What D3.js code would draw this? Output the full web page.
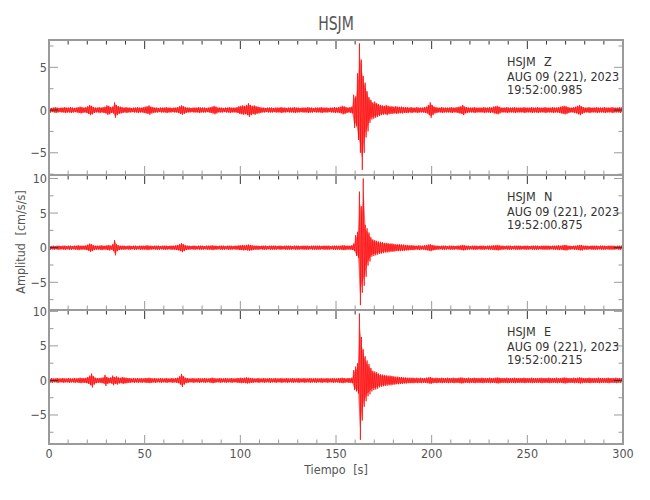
<!DOCTYPE html>
<html><head><meta charset="utf-8">
<script src="https://cdn.jsdelivr.net/npm/d3@7"></script>
<style>
body{margin:0;background:#fff;}
text{font-family:"Liberation Sans Narrow","DejaVu Sans Condensed",sans-serif;}
</style></head>
<body><svg id="c" width="650" height="500"></svg>
<script>
// ---- data ----
const title = "HSJM";
const station = "HSJM";
const dateLabel = "AUG 09 (221), 2023";
const channels = ["Z", "N", "E"];
const startTimes = ["19:52:00.985", "19:52:00.875", "19:52:00.215"];
const xTicksMajor = [0, 50, 100, 150, 200, 250, 300];
const xLabel = "Tiempo [s]";
const yLabel = "Amplitud [cm/s/s]";
const yDomains = [[-7.6, 8.2], [-9, 10.5], [-9.2, 10.2]];
const eventStart = 158;

// upper envelope per 1 s bin (cm/s/s)
const zUp = [
.3,.25,.3,.35,.3,.25,.3,.3,.35,.3,
.3,.35,.3,.25,.3,.35,.4,.35,.3,.35,
.45,.6,.5,.35,.3,.3,.35,.3,.35,.4,
.55,.5,.35,.4,.9,.6,.45,.4,.35,.3,
.35,.3,.3,.25,.3,.3,.35,.3,.3,.35,
.4,.45,.55,.4,.35,.3,.3,.25,.3,.3,
.3,.35,.3,.3,.25,.3,.3,.35,.45,.55,
.45,.35,.3,.3,.25,.3,.3,.3,.35,.3,
.3,.3,.25,.3,.35,.4,.5,.4,.3,.3,
.3,.25,.3,.3,.35,.3,.3,.3,.35,.45,
.5,.55,.5,.6,.8,.6,.5,.55,.45,.4,
.35,.3,.3,.25,.3,.3,.3,.25,.3,.3,
.3,.35,.3,.3,.25,.3,.3,.3,.35,.3,
.3,.25,.3,.3,.3,.35,.3,.3,.25,.3,
.3,.3,.35,.3,.3,.3,.25,.3,.3,.35,
.3,.35,.4,.5,.45,.35,.3,.35,.4,1.8,
1.6,4.3,7.8,5.9,4.0,3.2,2.2,1.5,1.2,.9,
1.0,.8,.7,.6,.55,.5,.6,.5,.45,.45,
.4,.45,.4,.38,.4,.35,.35,.35,.3,.35,
.3,.3,.35,.3,.3,.3,.35,.4,.6,.9,
.6,.4,.35,.3,.3,.35,.3,.3,.3,.3,
.35,.3,.3,.35,.4,.45,.6,.4,.35,.3,
.3,.3,.35,.3,.3,.3,.3,.35,.3,.3,
.35,.3,.4,.45,.5,.4,.3,.3,.3,.35,
.3,.3,.3,.35,.3,.3,.3,.3,.35,.3,
.3,.3,.35,.3,.3,.35,.3,.3,.3,.35,
.3,.3,.3,.35,.3,.3,.35,.4,.45,.5,
.45,.35,.3,.3,.35,.4,.5,.6,.45,.35,
.3,.3,.35,.3,.3,.3,.35,.3,.3,.3,
.35,.3,.3,.3,.35,.3,.3,.3,.35,.3];
// lower envelope around the event (from 158 s), elsewhere equal to upper
const zDnEvent = [.4,2.1,1.9,3.5,5.0,7.0,5.0,3.2,2.5,1.5,1.1,1.0,.9,.8,.7];

const nUp = [
.3,.25,.3,.25,.3,.3,.25,.3,.3,.25,
.3,.3,.25,.3,.3,.35,.3,.3,.3,.35,
.45,.6,.5,.35,.3,.3,.3,.35,.3,.3,
.35,.4,.3,.5,1.1,.5,.35,.3,.3,.3,
.25,.3,.3,.25,.3,.3,.25,.3,.3,.3,
.3,.35,.3,.3,.25,.3,.3,.3,.25,.3,
.3,.3,.25,.3,.3,.3,.35,.4,.5,.65,
.5,.35,.3,.3,.25,.3,.3,.25,.3,.3,
.3,.25,.3,.3,.3,.35,.3,.3,.25,.3,
.3,.3,.25,.3,.3,.3,.25,.3,.3,.35,
.35,.4,.35,.4,.45,.4,.35,.3,.3,.3,
.25,.3,.3,.3,.25,.3,.3,.3,.3,.25,
.3,.3,.25,.3,.3,.3,.3,.25,.3,.3,
.3,.25,.3,.3,.3,.3,.25,.3,.3,.3,
.3,.3,.25,.3,.3,.3,.3,.25,.3,.3,
.3,.3,.3,.35,.35,.3,.3,.3,.35,.6,
1.8,2.3,8.1,6.0,10.0,3.3,2.8,2.2,1.5,1.2,
1.1,1.0,.9,.85,.8,.7,.7,.65,.6,.6,
.55,.5,.5,.5,.45,.45,.4,.4,.35,.35,
.35,.3,.3,.35,.3,.3,.35,.4,.45,.5,
.4,.35,.3,.3,.25,.3,.3,.3,.25,.3,
.3,.3,.25,.3,.3,.35,.4,.35,.3,.3,
.25,.3,.3,.3,.25,.3,.3,.3,.25,.3,
.3,.3,.35,.35,.4,.35,.3,.3,.25,.3,
.3,.3,.25,.3,.3,.3,.3,.25,.3,.3,
.3,.25,.3,.3,.3,.3,.25,.3,.3,.3,
.3,.3,.25,.3,.3,.3,.35,.3,.35,.4,
.4,.3,.3,.25,.3,.3,.35,.4,.4,.3,
.3,.3,.25,.3,.3,.3,.3,.25,.3,.3,
.3,.25,.3,.3,.3,.3,.25,.3,.3,.3];
const nDnEvent = [.35,.5,1.2,1.5,8.3,6.5,5.5,4.2,2.6,2.0,1.3,1.2,1.1,1.0,.9];

const eUp = [
.3,.35,.3,.3,.35,.3,.3,.35,.3,.3,
.35,.3,.3,.35,.3,.35,.4,.35,.35,.4,
.5,.7,1.0,.6,.4,.35,.35,.4,.45,.8,
.5,.4,.45,.7,.5,.6,.45,.4,.5,.45,
.4,.35,.35,.3,.35,.3,.35,.3,.35,.3,
.35,.35,.4,.35,.3,.35,.3,.3,.35,.3,
.3,.35,.3,.3,.35,.3,.35,.4,.6,.95,
.6,.4,.35,.3,.3,.35,.3,.3,.35,.3,
.3,.35,.3,.3,.35,.4,.35,.3,.3,.35,
.3,.3,.35,.3,.3,.35,.3,.3,.35,.35,
.4,.35,.4,.45,.4,.35,.35,.3,.3,.35,
.3,.3,.35,.3,.3,.35,.3,.3,.35,.3,
.3,.35,.3,.3,.35,.3,.3,.35,.3,.3,
.35,.3,.3,.35,.3,.3,.35,.3,.3,.35,
.3,.3,.35,.3,.3,.35,.3,.3,.35,.3,
.3,.35,.35,.4,.35,.3,.35,.35,.4,1.5,
2.0,2.5,9.7,6.3,4.5,3.5,2.9,2.4,1.8,1.4,
1.3,1.2,1.0,.9,.85,.8,.75,.7,.7,.65,
.6,.55,.55,.5,.5,.45,.45,.4,.4,.4,
.4,.35,.4,.35,.4,.35,.35,.4,.45,.5,
.4,.35,.4,.35,.35,.4,.35,.35,.4,.35,
.35,.4,.35,.35,.4,.45,.4,.35,.35,.4,
.35,.35,.4,.35,.35,.35,.4,.35,.35,.35,
.4,.35,.35,.4,.45,.4,.35,.35,.35,.4,
.35,.35,.35,.4,.35,.35,.35,.35,.4,.35,
.35,.35,.4,.35,.35,.35,.35,.4,.35,.35,
.35,.4,.35,.35,.35,.4,.35,.35,.4,.45,
.4,.35,.35,.35,.4,.35,.4,.45,.4,.35,
.35,.35,.4,.35,.35,.35,.35,.4,.35,.35,
.35,.35,.4,.35,.35,.35,.4,.35,.35,.35];
const eDnEvent = [.4,1.4,1.6,1.9,8.6,5.8,3.8,3.0,2.3,2.0,1.6,1.4,1.3,1.2,1.0];

const ups = [zUp, nUp, eUp];
const dnEvents = [zDnEvent, nDnEvent, eDnEvent];

// ---- layout ----
const svg = d3.select("#c");
const L = 49, R = 623;
const panelTops = [40, 175, 310];
const panelBots = [175, 310, 444];
const frameCol = "#9a9a9a", darkTick = "#333", textCol = "#555";

const x = d3.scaleLinear().domain([0, 300]).range([L, R]);
const xMinor = d3.range(0, 301, 10);

svg.append("text").text(title)
  .attr("transform", `translate(${(L+R)/2},30) scale(0.78,1)`)
  .attr("text-anchor", "middle").attr("font-size", 20).attr("fill", textCol);

channels.forEach((ch, p) => {
  const top = panelTops[p], bot = panelBots[p];
  const y = d3.scaleLinear().domain(yDomains[p]).range([bot, top]);
  const g = svg.append("g");

  const cid = "clip" + p;
  svg.append("clipPath").attr("id", cid).append("rect")
    .attr("x", L).attr("y", top).attr("width", R - L).attr("height", bot - top);

  const up = ups[p], dnE = dnEvents[p];
  const bins = up.map((u, i) => ({
    t: i,
    u: u,
    d: (i >= eventStart && i < eventStart + dnE.length) ? dnE[i - eventStart] : u
  }));
  // soft envelope band
  const area = d3.area().x(b => x(b.t + 0.5)).y0(b => y(-b.d * 0.8)).y1(b => y(b.u * 0.8));
  g.append("path").datum(bins).attr("d", area)
    .attr("clip-path", `url(#${cid})`)
    .attr("fill", "#ff0000").attr("fill-opacity", 0.55);
  // oscillating trace: upper then lower peak within each bin
  const pts = [];
  bins.forEach(b => { pts.push([b.t + 0.25, b.u]); pts.push([b.t + 0.75, -b.d]); });
  const line = d3.line().x(d => x(d[0])).y(d => y(d[1]));
  g.append("path").datum(pts).attr("d", line)
    .attr("clip-path", `url(#${cid})`)
    .attr("fill", "none").attr("stroke", "#ff0000").attr("stroke-width", 0.7);

  const [y0, y1] = yDomains[p];
  const yMajor = d3.range(Math.ceil(y0 / 5) * 5, y1 + 0.001, 5);
  const yMin = d3.range(Math.ceil(y0 / 2.5) * 2.5, y1 + 0.001, 2.5).filter(v => Math.abs(v % 5) > 0.01);
  yMajor.forEach(v => {
    const col = v === 0 ? darkTick : frameCol;
    g.append("line").attr("x1", L).attr("x2", L + 9).attr("y1", y(v)).attr("y2", y(v)).attr("stroke", col);
    g.append("line").attr("x1", R).attr("x2", R - 9).attr("y1", y(v)).attr("y2", y(v)).attr("stroke", col);
    g.append("text").text(v < 0 ? "\u2212" + Math.abs(v) : v)
      .attr("x", L - 2).attr("y", y(v) + 4.5).attr("text-anchor", "end")
      .attr("font-size", 12.5).attr("fill", textCol);
  });
  yMin.forEach(v => {
    g.append("line").attr("x1", L).attr("x2", L + 4.5).attr("y1", y(v)).attr("y2", y(v)).attr("stroke", frameCol);
    g.append("line").attr("x1", R).attr("x2", R - 4.5).attr("y1", y(v)).attr("y2", y(v)).attr("stroke", frameCol);
  });

  xMinor.forEach(t => {
    const len = xTicksMajor.includes(t) ? 9 : 4.5;
    g.append("line").attr("x1", x(t)).attr("x2", x(t)).attr("y1", top).attr("y2", top + len).attr("stroke", darkTick);
    g.append("line").attr("x1", x(t)).attr("x2", x(t)).attr("y1", bot).attr("y2", bot - len).attr("stroke", frameCol);
  });

  g.append("rect").attr("x", L).attr("y", top).attr("width", R - L).attr("height", bot - top)
    .attr("fill", "none").attr("stroke", frameCol).attr("stroke-width", 2);

  const ann = g.append("g").attr("fill", "#333").attr("font-size", 12.5);
  ann.append("text").attr("x", 507).attr("y", top + 25.7).text(station);
  ann.append("text").attr("x", 544).attr("y", top + 25.7).text(ch);
  ann.append("text").attr("x", 507).attr("y", top + 40.5).text(dateLabel);
  ann.append("text").attr("x", 507).attr("y", top + 54.3).text(startTimes[p]);
});

xTicksMajor.forEach(t => {
  svg.append("text").text(t).attr("x", x(t)).attr("y", 458)
    .attr("text-anchor", "middle").attr("font-size", 12.5).attr("fill", textCol);
});
svg.append("text").text(xLabel).attr("x", (L + R) / 2).attr("y", 474)
  .attr("text-anchor", "middle").attr("font-size", 12.5).attr("fill", textCol)
  .attr("word-spacing", 4);
svg.append("text").text(yLabel)
  .attr("transform", `translate(25,242) rotate(-90)`)
  .attr("text-anchor", "middle").attr("font-size", 12.5).attr("fill", textCol)
  .attr("word-spacing", 4);
</script></body></html>
